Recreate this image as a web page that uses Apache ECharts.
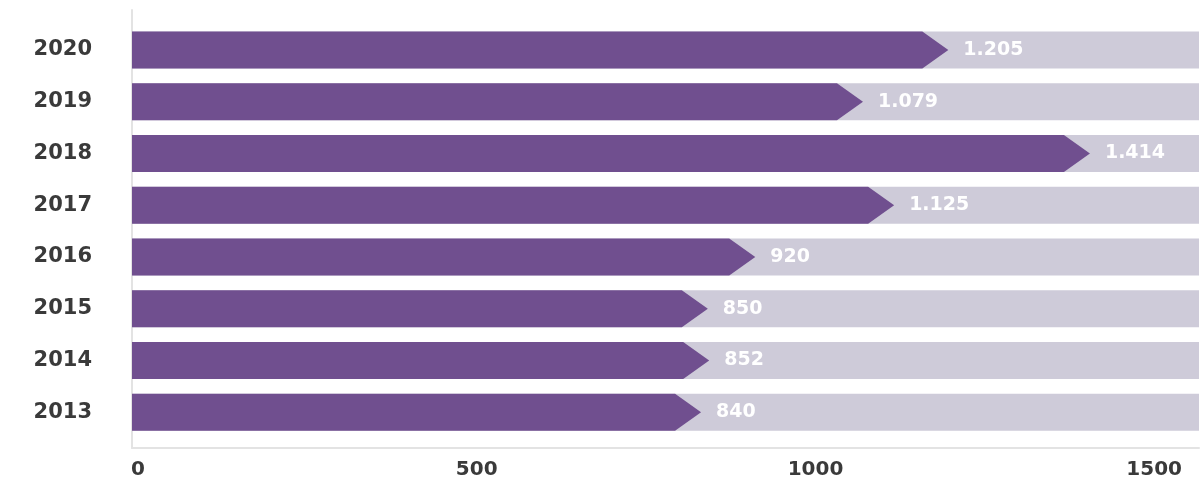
<!DOCTYPE html>
<html>
<head>
<meta charset="utf-8">
<style>
  html, body { margin: 0; padding: 0; background: #ffffff; }
  #chart { width: 1202px; height: 496px; }
</style>
<script src="https://cdn.jsdelivr.net/npm/echarts@6/dist/echarts.min.js"></script>
</head>
<body>
<div id="chart"></div>
<script>
// Yearly totals, bottom (2013) to top (2020)
const years = ['2013', '2014', '2015', '2016', '2017', '2018', '2019', '2020'];
const totals = [840, 852, 850, 920, 1125, 1414, 1079, 1205];
const axisTicks = [0, 500, 1000, 1500];

const AXIS_MAX = 1575;
const FONT = '"DejaVu Sans", sans-serif';
const PURPLE = '#704f8f';
const TRACK = '#cecbd9';
const BAR_H = 37;
const ARROW = 26;

// thousands separator as a dot: 1205 -> "1.205"
function fmt(v) {
  return String(v).replace(/\B(?=(\d{3})+(?!\d))/g, '.');
}

const chart = echarts.init(document.getElementById('chart'), null, { renderer: 'canvas' });

chart.setOption({
  animation: false,
  backgroundColor: '#ffffff',
  grid: [
    // frame: axis lines and value labels
    { left: 132, right: 3, top: 10, bottom: 48 },
    // bars
    { left: 132, right: 3, top: 24, bottom: 58 }
  ],
  xAxis: [
    {
      gridIndex: 0, type: 'value', min: 0, max: AXIS_MAX, interval: 500,
      axisLine: { show: true, lineStyle: { color: '#e3e3e3', width: 2 } },
      axisTick: { show: false },
      splitLine: { show: false },
      axisLabel: {
        showMaxLabel: false,
        margin: 12,
        padding: [0, 0, 0, 12],
        color: '#3a3a3a', fontFamily: FONT, fontSize: 20, fontWeight: 'bold',
        formatter: v => (axisTicks.indexOf(v) >= 0 ? String(v) : '')
      }
    },
    { gridIndex: 1, type: 'value', min: 0, max: AXIS_MAX, show: false }
  ],
  yAxis: [
    {
      gridIndex: 0, type: 'value', min: 0, max: 1,
      axisLine: { show: true, lineStyle: { color: '#e3e3e3', width: 2 } },
      axisTick: { show: false },
      axisLabel: { show: false },
      splitLine: { show: false }
    },
    {
      gridIndex: 1, type: 'category', data: years,
      axisLine: { show: false },
      axisTick: { show: false },
      axisLabel: {
        margin: 40,
        color: '#3a3a3a', fontFamily: FONT, fontSize: 21, fontWeight: 'bold'
      }
    }
  ],
  series: [
    {
      // grey track behind each bar plus the value label
      type: 'bar',
      xAxisIndex: 1, yAxisIndex: 1,
      data: totals,
      barWidth: BAR_H,
      itemStyle: { color: 'rgba(0,0,0,0)' },
      showBackground: true,
      backgroundStyle: { color: TRACK },
      label: {
        show: true, position: 'right', distance: 15,
        color: '#ffffff', fontFamily: FONT, fontSize: 19, fontWeight: 'bold',
        formatter: p => fmt(p.value)
      },
      z: 2
    },
    {
      // purple arrow-headed bars
      type: 'custom',
      xAxisIndex: 1, yAxisIndex: 1,
      data: totals.map((v, i) => [v, i]),
      encode: { x: 0, y: 1 },
      renderItem: function (params, api) {
        const v = api.value(0);
        const cat = api.value(1);
        const start = api.coord([0, cat]);
        const end = api.coord([v, cat]);
        const h = BAR_H;
        const cy = start[1];
        const x0 = start[0];
        const tip = end[0];
        const body = tip - ARROW;
        return {
          type: 'polygon',
          shape: {
            points: [
              [x0, cy - h / 2],
              [body, cy - h / 2],
              [tip, cy],
              [body, cy + h / 2],
              [x0, cy + h / 2]
            ]
          },
          style: { fill: PURPLE }
        };
      },
      z: 3
    }
  ]
});
</script>
</body>
</html>
